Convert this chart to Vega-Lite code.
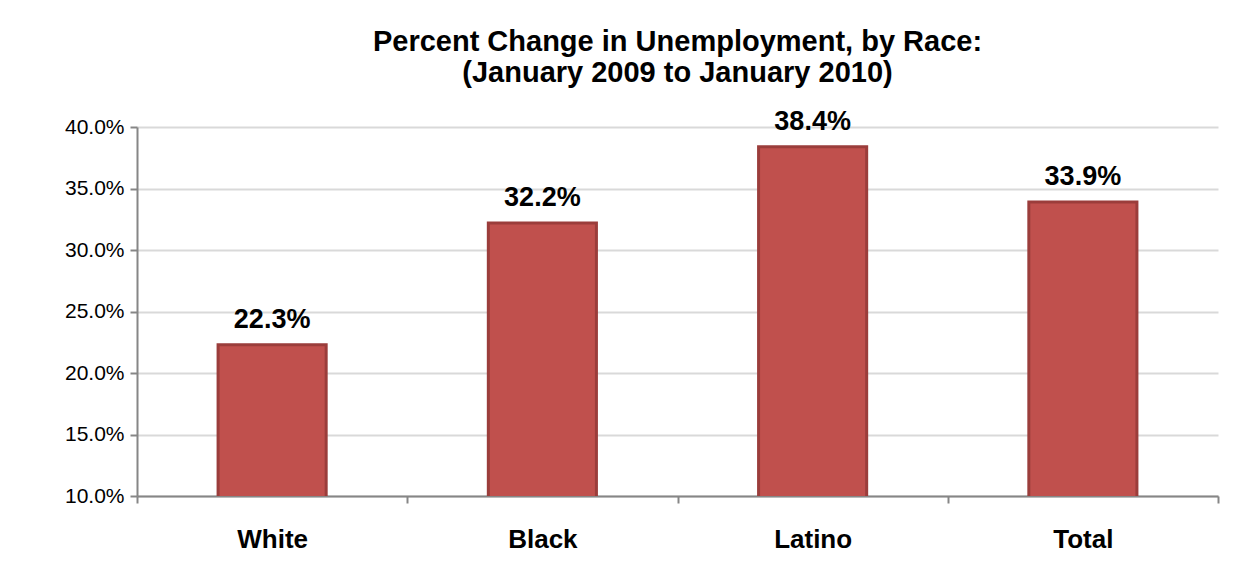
{
  "$schema": "https://vega.github.io/schema/vega-lite/v6.json",
  "autosize": "none",
  "padding": {"left": 137, "top": 127, "right": 27, "bottom": 82},
  "width": 1081,
  "height": 369,
  "background": "white",
  "title": {
    "text": ["Percent Change in Unemployment, by Race:", "(January 2009 to January 2010)"],
    "font": "Liberation Sans",
    "fontSize": 29,
    "fontWeight": "bold",
    "color": "#000000",
    "anchor": "middle",
    "offset": 20,
    "lineHeight": 31
  },
  "data": {
    "values": [
      {"race": "White", "change": 0.223},
      {"race": "Black", "change": 0.322},
      {"race": "Latino", "change": 0.384},
      {"race": "Total", "change": 0.339}
    ]
  },
  "encoding": {
    "x": {
      "field": "race", "type": "nominal", "sort": null, "title": null,
      "scale": {"paddingInner": 0, "paddingOuter": 0},
      "axis": {
        "labelAngle": 0, "labelFont": "Liberation Sans", "labelFontSize": 26,
        "labelFontWeight": "bold", "labelColor": "#000000", "labelPadding": 23,
        "tickBand": "extent", "tickSize": 7, "tickColor": "#868686",
        "domainColor": "#868686", "domainWidth": 2, "tickWidth": 2
      }
    },
    "y": {
      "field": "change", "type": "quantitative", "title": null,
      "scale": {"domain": [0.1, 0.4], "zero": false},
      "axis": {
        "format": ".1%", "values": [0.1, 0.15, 0.2, 0.25, 0.3, 0.35, 0.4],
        "labelFont": "Liberation Sans", "labelFontSize": 21, "labelColor": "#000000",
        "labelPadding": 6, "tickSize": 7, "tickColor": "#868686", "tickWidth": 2,
        "domainColor": "#868686", "domainWidth": 2,
        "gridColor": "#d9d9d9", "gridWidth": 2
      }
    }
  },
  "layer": [
    {
      "mark": {"type": "bar", "clip": true, "width": {"band": 0.4}, "color": "#C0504D", "stroke": "#9B3D3B", "strokeWidth": 3}
    },
    {
      "mark": {"type": "text", "baseline": "alphabetic", "dy": -17, "font": "Liberation Sans", "fontSize": 27, "fontWeight": "bold", "color": "#000000"},
      "encoding": {"text": {"field": "change", "type": "quantitative", "format": ".1%"}}
    }
  ],
  "config": {"view": {"stroke": null}}
}
